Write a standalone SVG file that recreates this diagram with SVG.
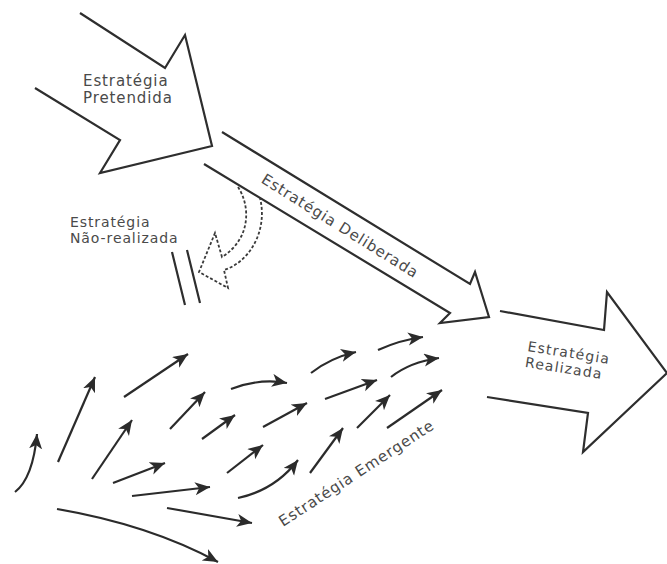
<svg xmlns="http://www.w3.org/2000/svg" width="667" height="564" viewBox="0 0 667 564">
<defs>
<style>
.big{fill:none;stroke:#2e2e2e;stroke-width:2.2;stroke-linejoin:miter}
.dash{fill:none;stroke:#3a3a3a;stroke-width:1.8;stroke-dasharray:3 2}
.lbl{font-family:"DejaVu Sans",Verdana,sans-serif;fill:#4a4a4a;letter-spacing:0.9px}
.sm{fill:none;stroke:#2b2b2b;stroke-width:2.2;marker-end:url(#ah)}
</style>
<marker id="ah" markerUnits="userSpaceOnUse" markerWidth="18" markerHeight="16" refX="15" refY="6.5" orient="auto">
<path d="M0,0 L15,6.5 L0,13 L4,6.5 z" fill="#2b2b2b"/>
</marker>
</defs>
<rect width="667" height="564" fill="#ffffff"/>

<g id="pretendida">
<path class="big" d="M80,13 L165,68 L185,35 L212,146 L100,173 L120,140 L35,88"/>
<text class="lbl" font-size="15"><tspan x="83" y="86">Estratégia</tspan><tspan x="83" y="103">Pretendida</tspan></text>
</g>

<g id="deliberada">
<path class="big" d="M222,132 L470,284 L475,272 L489,317 L440,323 L450,313 L204,164"/>
<text class="lbl" font-size="15" text-anchor="middle" transform="translate(340,226) rotate(32)" x="0" y="5">Estratégia Deliberada</text>
</g>

<g id="nao-realizada">
<path class="dash" d="M238,187 C250,205 252,238 222,257 L215,233 L199,272 L228,288 L224,270 C250,262 268,230 260,198"/>
<path class="big" d="M172,252 L185,305 M187,250 L200,303" stroke-width="1.8"/>
<text class="lbl" font-size="14"><tspan x="70" y="227">Estratégia</tspan><tspan x="70" y="243">Não-realizada</tspan></text>
</g>

<g id="realizada">
<path class="big" d="M500,311 L604,330 L607,292 L667,373 L583,452 L588,413 L487,397"/>
<g transform="translate(527,351) rotate(9)">
<text class="lbl" font-size="14" style="letter-spacing:1.2px"><tspan x="0" y="0">Estratégia</tspan><tspan x="0" y="16">Realizada</tspan></text>
</g>
</g>

<g id="emergente">
<text class="lbl" font-size="15" transform="translate(283,527) rotate(-33)" x="0" y="0">Estratégia Emergente</text>
</g>

<g id="connectors">
<path class="sm" d="M15,492 Q33,478 37,434"/>
<path class="sm" d="M58,462 L95,377"/>
<path class="sm" d="M124,397 L188,354"/>
<path class="sm" d="M92,479 L132,420"/>
<path class="sm" d="M170,429 L205,392"/>
<path class="sm" d="M202,439 L235,415"/>
<path class="sm" d="M113,483 L165,463"/>
<path class="sm" d="M132,496 L210,487"/>
<path class="sm" d="M167,508 L252,523"/>
<path class="sm" d="M57,509 Q150,525 218,562"/>
<path class="sm" d="M231,389 Q260,378 287,383"/>
<path class="sm" d="M311,373 Q330,358 356,352"/>
<path class="sm" d="M378,350 Q400,340 423,337"/>
<path class="sm" d="M263,427 L307,403"/>
<path class="sm" d="M325,399 L377,380"/>
<path class="sm" d="M391,377 Q410,362 439,358"/>
<path class="sm" d="M227,473 L263,445"/>
<path class="sm" d="M238,498 Q275,490 298,460"/>
<path class="sm" d="M310,473 L343,428"/>
<path class="sm" d="M357,428 L390,395"/>
<path class="sm" d="M387,428 L442,390"/>
</g>
</svg>
